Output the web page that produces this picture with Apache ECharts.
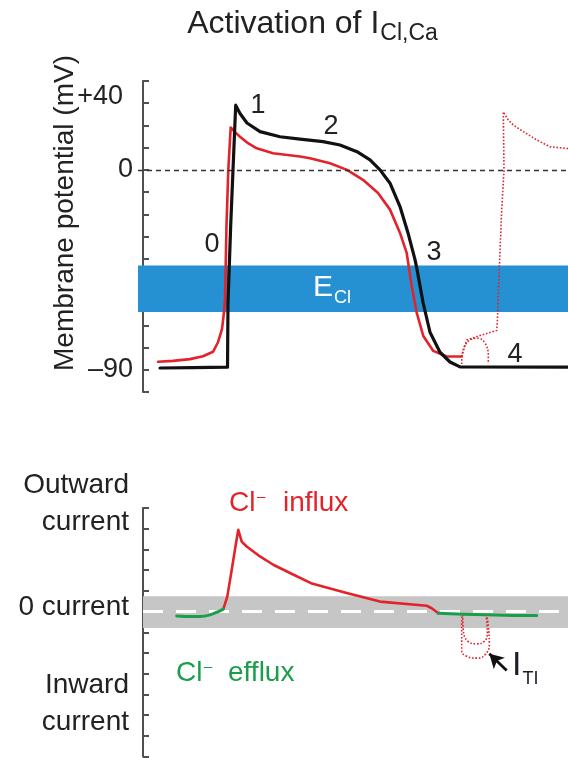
<!DOCTYPE html>
<html><head><meta charset="utf-8">
<script src="https://cdn.jsdelivr.net/npm/echarts@6/dist/echarts.min.js"></script>
<style>html,body{margin:0;padding:0;background:#fff}#c{width:568px;height:758px}</style>
</head><body><div id="c"></div>
<script>
// ---------- DATA (time units arbitrary) ----------
const mvTickLabels = {40: '+40', 0: '0', '-90': '\u201390'};
// Membrane potential (mV): control AP (black) and AP with I_Cl,Ca (red)
const apControl = [[17,-89.2],[50,-89.0],[84.5,-88.8],[85,-60],[87.7,-25],[90,0],[92.7,29.1],[97,25.4],[104,21.1],[117,17.2],[137,14.9],[157,13.8],[180,12.7],[197,11.2],[214,8.2],[227,4.5],[237,0],[247,-6.0],[257,-16.5],[265,-28.4],[272,-40.4],[274,-44.8],[280,-59.6],[287,-73.1],[297,-82.1],[307,-86.5],[317,-88.7],[425,-88.8]];
const apClCa = [[15,-86.4],[30,-86.0],[47,-85.2],[60,-83.9],[70,-81.9],[75,-77.6],[79,-71.7],[81,-64.1],[82,-58.3],[83.5,-25],[85.3,0],[87.7,19.1],[92,17.0],[97,14.9],[105,12.0],[113.7,9.7],[130,7.5],[157,6.0],[167,5.2],[187,3.0],[204,0],[220,-4.5],[235,-10.4],[247,-17.9],[257,-28.4],[263.7,-37.4],[268.7,-52.3],[273.7,-64.3],[280.3,-74.8],[290.3,-81.5],[303.7,-84.0],[318.7,-84.0]];
const dadArch = [[318.7,-87.4],[320.3,-80.7],[327,-76.6],[335.3,-75.8],[342,-78.0],[345.3,-83.3],[345.3,-87.4]];
const triggeredAP = [[318.7,-84.0],[323.7,-76.6],[337,-74.6],[353.7,-72.3],[354.3,-68.6],[356.3,-44.8],[358.5,-20],[361,0],[360.3,26.1],[365.3,22.4],[370.3,20.2],[380.3,17.2],[393.7,13.5],[407,10.4],[425,9.6]];
const eClBand = [-64, -43];
// Current (arbitrary units)
const effluxEarly = [[33.7,-0.21],[47,-0.24],[57,-0.24],[67,-0.16],[75.3,0],[80.3,0.12]];
const influx = [[80.3,0.12],[84.3,0.72],[88.7,2.01],[93,3.30],[95.3,3.95],[98.7,3.38],[103.7,3.14],[117,2.66],[130.3,2.26],[147,1.86],[168,1.37],[203.7,0.89],[237,0.48],[283.7,0.28],[288.7,0.16],[295.3,-0.08]];
const effluxLate = [[295.3,-0.08],[320.3,-0.13],[343.7,-0.16],[370.3,-0.19],[393.7,-0.19]];
const itiOuter = [[318.7,-0.08],[318.7,-1.85],[323.7,-2.16],[333.7,-2.25],[342,-2.09],[346.3,-1.53],[345.3,-0.72],[343.7,-0.16]];
const itiInner = [[319.7,-0.16],[320.3,-0.88],[325.3,-1.45],[333.7,-1.56],[341,-1.45],[344.3,-1.05],[343,-0.16]];
const zeroBand = [-0.8, 0.74];
const itiArrow = [[363.7,-2.85],[346.3,-2.04]];

// ---------- STYLE ----------
const FONT = "'Liberation Sans', Arial, Helvetica, sans-serif";
const RED = '#e3232b', BLACK = '#111111', GREEN = '#1a9e4a', BLUE = '#2590d2', GREY = '#c6c6c6', AX = '#505050', TXT = '#222222';

const chart = echarts.init(document.getElementById('c'), null, {renderer: 'canvas'});
const ctx = document.createElement('canvas').getContext('2d');
function tw(text, size) { ctx.font = size + 'px ' + FONT; return ctx.measureText(text).width; }
function T(x, y, text, size, color, align, rot) {
  const o = {type: 'text', x: x, y: y, silent: true, z: 100,
    style: {text: text, fontSize: size, fontFamily: FONT, fill: color,
      align: align || 'left', textAlign: align || 'left', verticalAlign: 'middle', textVerticalAlign: 'middle'}};
  if (rot) o.rotation = rot;
  return o;
}

function yAxisBase(grid, min, max, showLabels) {
  return {
    gridIndex: grid, type: 'value', min: min, max: max, interval: grid === 0 ? 10 : 1,
    axisLine: {show: true, onZero: false, lineStyle: {color: AX, width: 2}},
    axisTick: {show: true, inside: true, length: 6, lineStyle: {color: AX, width: 2}},
    splitLine: {show: false},
    axisLabel: showLabels ? {
      show: true, margin: 10, fontSize: 27, color: TXT, fontFamily: FONT,
      formatter: function (v) {
        const s = mvTickLabels[String(v)];
        if (s === undefined) return '';
        return v === 40 ? '{top|' + s + '}' : s;
      },
      rich: {top: {fontSize: 27, color: TXT, fontFamily: FONT, padding: [32, 10, 0, 0]}}
    } : {show: false}
  };
}

function trace(xi, data, color, width, z, smooth, dotted) {
  return {type: 'line', xAxisIndex: xi, yAxisIndex: xi, data: data, showSymbol: false, z: z,
    smooth: smooth, silent: true,
    lineStyle: {color: color, width: width, type: dotted ? [1.6, 1.8] : 'solid', cap: dotted ? 'butt' : 'round', join: 'round'}};
}

const option = {
  animation: false,
  backgroundColor: '#fff',
  grid: [
    {left: 138, right: 0, top: 81, height: 311},
    {left: 143, right: 0, top: 508, height: 248.5}
  ],
  xAxis: [
    {gridIndex: 0, type: 'value', min: -5, max: 425, show: false},
    {gridIndex: 1, type: 'value', min: 0, max: 425, show: false}
  ],
  yAxis: [
    Object.assign(yAxisBase(0, -100, 40, true), {offset: -5}),
    yAxisBase(1, -7, 5, false)
  ],
  series: [
    {type: 'line', xAxisIndex: 0, yAxisIndex: 0, data: [], z: 1, silent: true,
      markArea: {silent: true, itemStyle: {color: BLUE}, data: [[{yAxis: eClBand[0]}, {yAxis: eClBand[1]}]]},
      markLine: {silent: true, symbol: 'none', label: {show: false},
        lineStyle: {color: '#333', width: 1.3, type: [5, 4]}, data: [{yAxis: 0}]}},
    trace(0, dadArch, RED, 1.6, 3, 0.4, true),
    trace(0, triggeredAP, RED, 1.6, 3, false, true),
    trace(0, apClCa, RED, 2.6, 4, false, false),
    trace(0, apControl, BLACK, 3.2, 5, false, false),
    // bottom panel
    {type: 'line', xAxisIndex: 1, yAxisIndex: 1, data: [], z: 1, silent: true,
      markArea: {silent: true, itemStyle: {color: GREY}, data: [[{yAxis: zeroBand[0]}, {yAxis: zeroBand[1]}]]},
      markLine: {silent: true, symbol: 'none', label: {show: false},
        lineStyle: {color: '#fff', width: 3, type: [20, 13]}, data: [{yAxis: 0}]}},
    {type: 'line', xAxisIndex: 1, yAxisIndex: 1, data: [], z: 6, silent: true,
      markLine: {silent: true, symbol: ['none', 'arrow'], symbolSize: [12, 14], label: {show: false},
        lineStyle: {color: '#111', width: 2.8, type: 'solid'},
        data: [[{coord: itiArrow[0]}, {coord: itiArrow[1]}]]}},
    trace(1, itiOuter, RED, 1.6, 3, 0.5, true),
    trace(1, itiInner, RED, 1.6, 3, 0.5, true),
    trace(1, influx, RED, 2.6, 4, false, false),
    trace(1, effluxEarly, GREEN, 3, 5, 0.3, false),
    trace(1, effluxLate, GREEN, 3, 5, false, false)
  ]
};
chart.setOption(option);

// ---------- TEXT ----------
const g = [];
const tMain = 'Activation of I', tSub = 'Cl,Ca';
const wMain = tw(tMain, 32), wSub = tw(tSub, 23);
const tx0 = 312 - (wMain + wSub) / 2;
g.push(T(tx0, 24, tMain, 32, TXT));
g.push(T(tx0 + wMain + 1, 34, tSub, 23, TXT));
g.push(T(65, 213, 'Membrane potential (mV)', 28, TXT, 'center', Math.PI / 2));
g.push(T(212, 245, '0', 27, TXT, 'center'));
g.push(T(258, 106, '1', 27, TXT, 'center'));
g.push(T(331, 127, '2', 27, TXT, 'center'));
g.push(T(434, 253, '3', 27, TXT, 'center'));
g.push(T(515, 355, '4', 27, TXT, 'center'));
g.push(T(313, 288, 'E', 30, '#fff'));
g.push(T(313 + tw('E', 30) + 1, 298, 'Cl', 18, '#fff'));
g.push(T(129, 485, 'Outward', 28, TXT, 'right'));
g.push(T(129, 522, 'current', 28, TXT, 'right'));
g.push(T(129, 607, '0 current', 28, TXT, 'right'));
g.push(T(129, 685, 'Inward', 28, TXT, 'right'));
g.push(T(129, 722, 'current', 28, TXT, 'right'));
g.push(T(229, 503, 'Cl', 28, RED));
g.push(T(257, 497, '\u2013', 15, RED));
g.push(T(283, 503, 'influx', 28, RED));
g.push(T(176, 673, 'Cl', 28, GREEN));
g.push(T(204, 667, '\u2013', 15, GREEN));
g.push(T(228, 673, 'efflux', 28, GREEN));
g.push(T(512, 666, 'I', 34, '#1c1c2a'));
g.push(T(512 + tw('I', 34) + 1, 679, 'TI', 18, '#1c1c2a'));
chart.setOption({graphic: {elements: g}});
</script></body></html>
